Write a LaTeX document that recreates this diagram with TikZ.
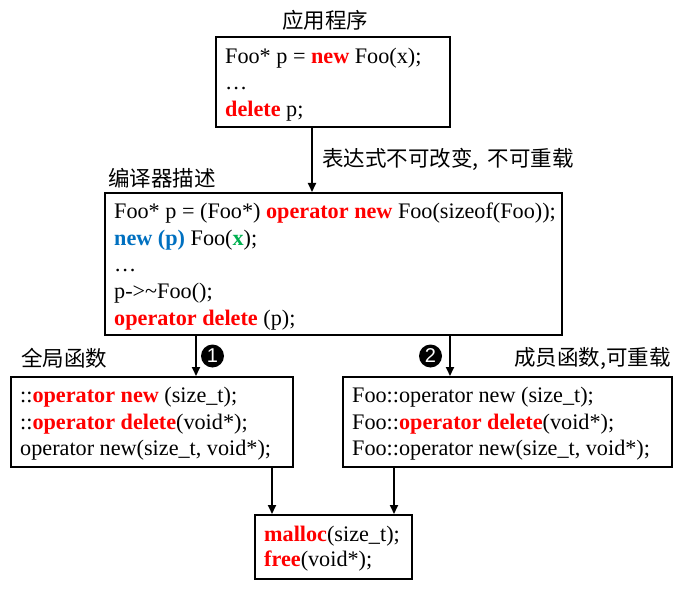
\documentclass[tikz,border=0pt]{standalone}
\usepackage{fontspec}
\setmainfont{Liberation Serif}
\newfontfamily\cjkfont{Noto Sans CJK SC}
\newfontfamily\numfont{Liberation Sans}
\usetikzlibrary{arrows.meta,calc}
\definecolor{kwred}{RGB}{255,0,0}
\definecolor{kwblue}{RGB}{0,112,192}
\definecolor{kwgreen}{RGB}{0,176,80}
\newcommand{\kw}[1]{\textbf{\textcolor{kwred}{#1}}}
\tikzset{
  codebox/.style={draw=black, line width=2pt, rectangle, inner sep=0pt},
  codetext/.style={anchor=west, inner sep=0pt, align=left, font=\fontsize{22.2}{26.6}\selectfont},
  cjklabel/.style={font=\cjkfont\fontsize{21.5}{24}\selectfont, inner sep=0pt},
  conn/.style={line width=2pt, -{Triangle[length=9pt,width=8pt]}},
  badge/.style={circle, fill=black, text=white, minimum size=23pt, inner sep=0pt,
    font=\numfont\fontsize{20}{20}\selectfont}
}
\begin{document}
\begin{tikzpicture}[x=1pt,y=-1pt]
\useasboundingbox (0,0) rectangle (678,591);
% boxes
\node[codebox, minimum width=234pt, minimum height=90pt] (app) at (333,82) {};
\node[codebox, minimum width=457pt, minimum height=142pt] (comp) at (333.5,264) {};
\node[codebox, minimum width=282pt, minimum height=90pt] (glob) at (152,422) {};
\node[codebox, minimum width=329pt, minimum height=90pt] (memb) at (507.5,422) {};
\node[codebox, minimum width=157pt, minimum height=64pt] (lib) at (333.5,547) {};
% box contents
\node[codetext] (appt) at ($(app.west)+(10,2.5)$)
  {Foo* p = \kw{new} Foo(x);\\ \ldots\\ \kw{delete} p;};
\node[codetext] (compt) at ($(comp.west)+(10,2.5)$)
  {Foo* p = (Foo*) \kw{operator new} Foo(sizeof(Foo));\\
   \textbf{\textcolor{kwblue}{new (p)}} Foo(\textbf{\textcolor{kwgreen}{x}});\\
   \ldots\\
   p->\textasciitilde Foo();\\
   \kw{operator delete} (p);};
\node[codetext] (globt) at ($(glob.west)+(10,2)$)
  {::\kw{operator new} (size\_t);\\ ::\kw{operator delete}(void*);\\ operator new(size\_t, void*);};
\node[codetext] (membt) at ($(memb.west)+(10,2)$)
  {Foo::operator new (size\_t);\\ Foo::\kw{operator delete}(void*);\\ Foo::operator new(size\_t, void*);};
\node[codetext, font=\fontsize{22.2}{25}\selectfont] (libt) at ($(lib.west)+(10,1.5)$)
  {\kw{malloc}(size\_t);\\ \kw{free}(void*);};
% labels
\node[cjklabel] (lapp) at (325,20) {应用程序};
\node[cjklabel, anchor=west] (lexpr) at (322,159) {表达式不可改变,\hspace{9pt}不可重载};
\node[cjklabel, anchor=west] (lcomp) at (108,178) {编译器描述};
\node[cjklabel, anchor=west] (lglob) at (21,358) {全局函数};
\node[cjklabel, anchor=east] (lmemb) at (671,359) {成员函数,可重载};
\node[badge] (b1) at (212.5,356) {1};
\node[badge] (b2) at (430.5,356) {2};
% connector x positions
\coordinate (xa) at (312,0);
\coordinate (xl) at (196,0);
\coordinate (xr) at (450,0);
\coordinate (xbl) at (272,0);
\coordinate (xbr) at (394,0);
% connectors
\draw[conn] (app.south -| xa) -- (comp.north -| xa);
\draw[conn] (comp.south -| xl) -- (glob.north -| xl);
\draw[conn] (comp.south -| xr) -- (memb.north -| xr);
\draw[conn] (glob.south -| xbl) -- (lib.north -| xbl);
\draw[conn] (memb.south -| xbr) -- (lib.north -| xbr);
\end{tikzpicture}
\end{document}
